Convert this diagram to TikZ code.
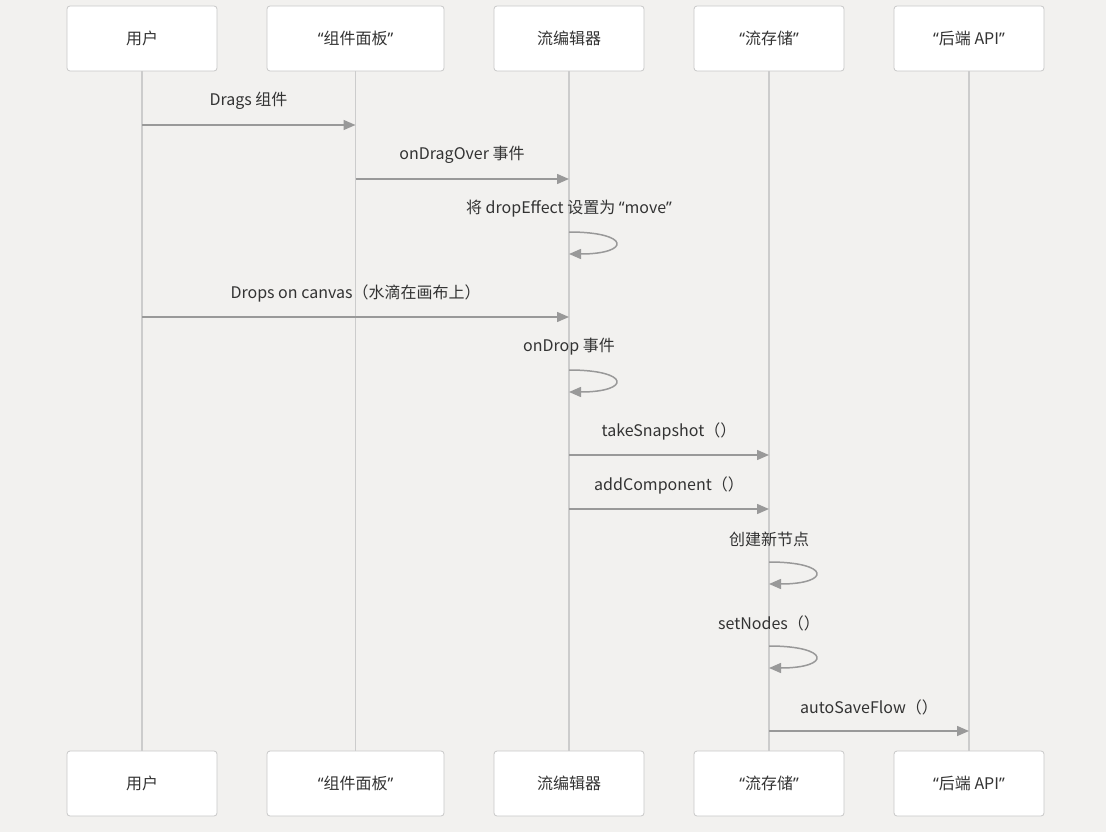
\documentclass[tikz,border=0pt]{standalone}
\usepackage{fontspec}
\setmainfont{Noto Sans CJK SC}
\newfontfamily\latf{Noto Sans}
\newcommand{\qt}[1]{{\latf “}#1{\latf ”}}
\usetikzlibrary{arrows.meta}
\definecolor{bg}{HTML}{F2F1EF}
\definecolor{boxline}{HTML}{C8C8C8}
\definecolor{life}{HTML}{CCCCCC}
\definecolor{msg}{HTML}{999999}
\definecolor{txt}{HTML}{333333}
\tikzset{
  actor/.style={draw=boxline, line width=0.8pt, fill=white, rounded corners=3pt, minimum height=65pt, text=txt, inner sep=0pt, font=\fontsize{16}{19}\selectfont},
  lifeline/.style={draw=life, line width=1.5pt},
  msgline/.style={draw=msg, line width=1.5pt, -{Triangle[length=12pt,width=10pt]}},
  msglabel/.style={text=txt, font=\fontsize{16}{19}\selectfont, inner sep=0pt},
}
\begin{document}
\begin{tikzpicture}[x=1pt,y=-1pt]
\fill[bg] (0,0) rectangle (1106,832);
\useasboundingbox (0,0) rectangle (1106,832);
% top actors
\node[actor, minimum width=150pt] (t1) at (142,38.5) {用户};
\node[actor, minimum width=177pt] (t2) at (355.5,38.5) {\qt{组件面板}};
\node[actor, minimum width=150pt] (t3) at (569,38.5) {流编辑器};
\node[actor, minimum width=150pt] (t4) at (769,38.5) {\qt{流存储}};
\node[actor, minimum width=150pt] (t5) at (969,38.5) {\qt{后端 API}};
% bottom actors
\node[actor, minimum width=150pt] (b1) at (142,783.5) {用户};
\node[actor, minimum width=177pt] (b2) at (355.5,783.5) {\qt{组件面板}};
\node[actor, minimum width=150pt] (b3) at (569,783.5) {流编辑器};
\node[actor, minimum width=150pt] (b4) at (769,783.5) {\qt{流存储}};
\node[actor, minimum width=150pt] (b5) at (969,783.5) {\qt{后端 API}};
% lifelines
\foreach \i in {1,...,5}{\draw[lifeline] (t\i.south) -- (b\i.north);}
% message coordinates
\coordinate (m1a) at (142,125); \coordinate (m1b) at (355.5,125);
\coordinate (m2a) at (355.5,179); \coordinate (m2b) at (569,179);
\coordinate (s1a) at (569,232); \coordinate (s1b) at (569,254);
\coordinate (m3a) at (142,317); \coordinate (m3b) at (569,317);
\coordinate (s2a) at (569,370); \coordinate (s2b) at (569,392);
\coordinate (m4a) at (569,455); \coordinate (m4b) at (769,455);
\coordinate (m5a) at (569,509); \coordinate (m5b) at (769,509);
\coordinate (s3a) at (769,562); \coordinate (s3b) at (769,584);
\coordinate (s4a) at (769,646); \coordinate (s4b) at (769,668);
\coordinate (m6a) at (769,731); \coordinate (m6b) at (969,731);
% messages
\draw[msgline] (m1a) -- (m1b);
\node[msglabel] (l1) at (248.5,101) {Drags 组件};
\draw[msgline] (m2a) -- (m2b);
\node[msglabel] (l2) at (462,155) {onDragOver 事件};
\draw[msgline] (s1a) .. controls +(62,0) and +(62,0) .. (s1b);
\node[msglabel] (l3) at (569,209) {将 dropEffect 设置为 \qt{move}};
\draw[msgline] (m3a) -- (m3b);
\node[msglabel] (l4) at (355.5,293) {Drops on canvas（水滴在画布上）};
\draw[msgline] (s2a) .. controls +(62,0) and +(62,0) .. (s2b);
\node[msglabel] (l5) at (569,347) {onDrop 事件};
\draw[msgline] (m4a) -- (m4b);
\node[msglabel] (l6) at (669,431) {takeSnapshot（）};
\draw[msgline] (m5a) -- (m5b);
\node[msglabel] (l7) at (669,485) {addComponent（）};
\draw[msgline] (s3a) .. controls +(62,0) and +(62,0) .. (s3b);
\node[msglabel] (l8) at (769,539) {创建新节点};
\draw[msgline] (s4a) .. controls +(62,0) and +(62,0) .. (s4b);
\node[msglabel] (l9) at (769,623) {setNodes（）};
\draw[msgline] (m6a) -- (m6b);
\node[msglabel] (l10) at (869,707) {autoSaveFlow（）};
\end{tikzpicture}
\end{document}
